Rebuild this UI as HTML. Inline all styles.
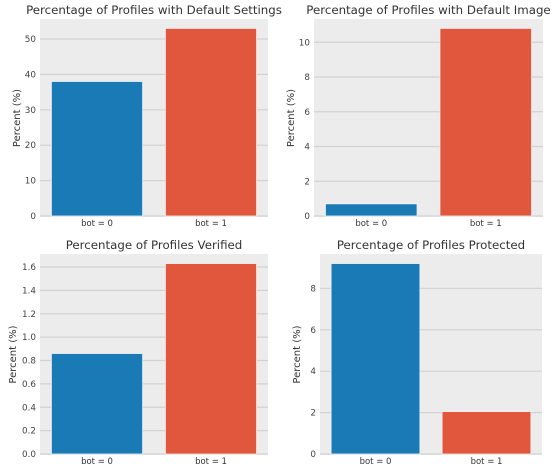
<!DOCTYPE html>
<html><head><meta charset="utf-8"><style>
body{margin:0;background:#fff;font-family:"DejaVu Sans","Liberation Sans",sans-serif;}
svg{display:block}
</style></head><body>
<svg id="fig" width="560" height="470" xmlns="http://www.w3.org/2000/svg"></svg>
<script>
const categories = ["bot = 0", "bot = 1"];
const titles = ["Percentage of Profiles with Default Settings","Percentage of Profiles with Default Image","Percentage of Profiles Verified","Percentage of Profiles Protected"];
const defaultSettingsValues = [38.0, 53.0];
const defaultImageValues = [0.7, 10.8];
const verifiedValues = [0.86, 1.63];
const protectedValues = [9.2, 2.05];
const defaultSettingsTicks = [0,10,20,30,40,50];
const defaultImageTicks = [0,2,4,6,8,10];
const verifiedTicks = [0,0.2,0.4,0.6,0.8,1.0,1.2,1.4,1.6];
const protectedTicks = [0,2,4,6,8];
const verifiedTickLabels = ["0.0","0.2","0.4","0.6","0.8","1.0","1.2","1.4","1.6"];

const colors = ["#1a7ab5","#e1573d"];
const NS = "http://www.w3.org/2000/svg";
const svg = document.getElementById('fig');
function mk(tag, attrs, parent){const e=document.createElementNS(NS,tag);for(const k in attrs)e.setAttribute(k,attrs[k]);(parent||svg).appendChild(e);return e;}

const panels = [
 {x0:40,x1:268,y0:19,y1:217,vals:defaultSettingsValues,ticks:defaultSettingsTicks,labels:null,key:"default-settings"},
 {x0:314,x1:543,y0:19,y1:217,vals:defaultImageValues,ticks:defaultImageTicks,labels:null,key:"default-image"},
 {x0:40,x1:268,y0:254,y1:455,vals:verifiedValues,ticks:verifiedTicks,labels:verifiedTickLabels,key:"verified"},
 {x0:320,x1:542,y0:254,y1:455,vals:protectedValues,ticks:protectedTicks,labels:null,key:"protected"}
];

panels.forEach((p,i)=>{
  const g = mk('g',{});
  
  
  const ymax = Math.max(...p.vals)*1.05;
  const zero = p.y1-1;
  const y = v => zero - v/ymax*(zero-p.y0);
  const slot = (p.x1-p.x0)/categories.length;
  const xb = j => p.x0 + slot*j + slot*0.1;
  const bg = mk('rect',{x:p.x0,y:p.y0,width:p.x1-p.x0,height:p.y1-p.y0,fill:"#ececec"},g);
  
  
  p.ticks.forEach((t,k)=>{
    const yy=y(t);
    const gl=mk('line',{x1:p.x0,x2:p.x1,y1:yy,y2:yy,stroke:"#d2d2d2","stroke-width":1.2},g);
    
    
    const tl=mk('text',{x:p.x0-4,y:yy+3,"font-size":8.8,fill:"#444","text-anchor":"end"},g);
    tl.textContent = p.labels ? p.labels[k] : String(t);
    
    
  });
  p.vals.forEach((v,j)=>{
    const b=mk('rect',{x:xb(j),y:y(v),width:slot*0.8,height:zero-y(v),fill:colors[j],stroke:"#f3f3f3","stroke-width":0.8},g);
    
    
    const xl=mk('text',{x:xb(j)+slot*0.4,y:p.y1+9,"font-size":8.5,fill:"#333","text-anchor":"middle"},g);
    xl.textContent = categories[j];
    
    
  });
  const tt=mk('text',{x:(p.x0+p.x1)/2,y:p.y0-5,"font-size":11.8,fill:"#333","text-anchor":"middle"},g);
  tt.textContent = titles[i];
  
  
  const cy=(p.y0+p.y1)/2, cx=p.x0-(p.labels?24:20);
  const yt=mk('text',{x:cx,y:cy,"font-size":10,fill:"#333","text-anchor":"middle",transform:`rotate(-90 ${cx} ${cy})`},g);
  yt.textContent = "Percent (%)";
  
  
});
</script>
</body></html>
